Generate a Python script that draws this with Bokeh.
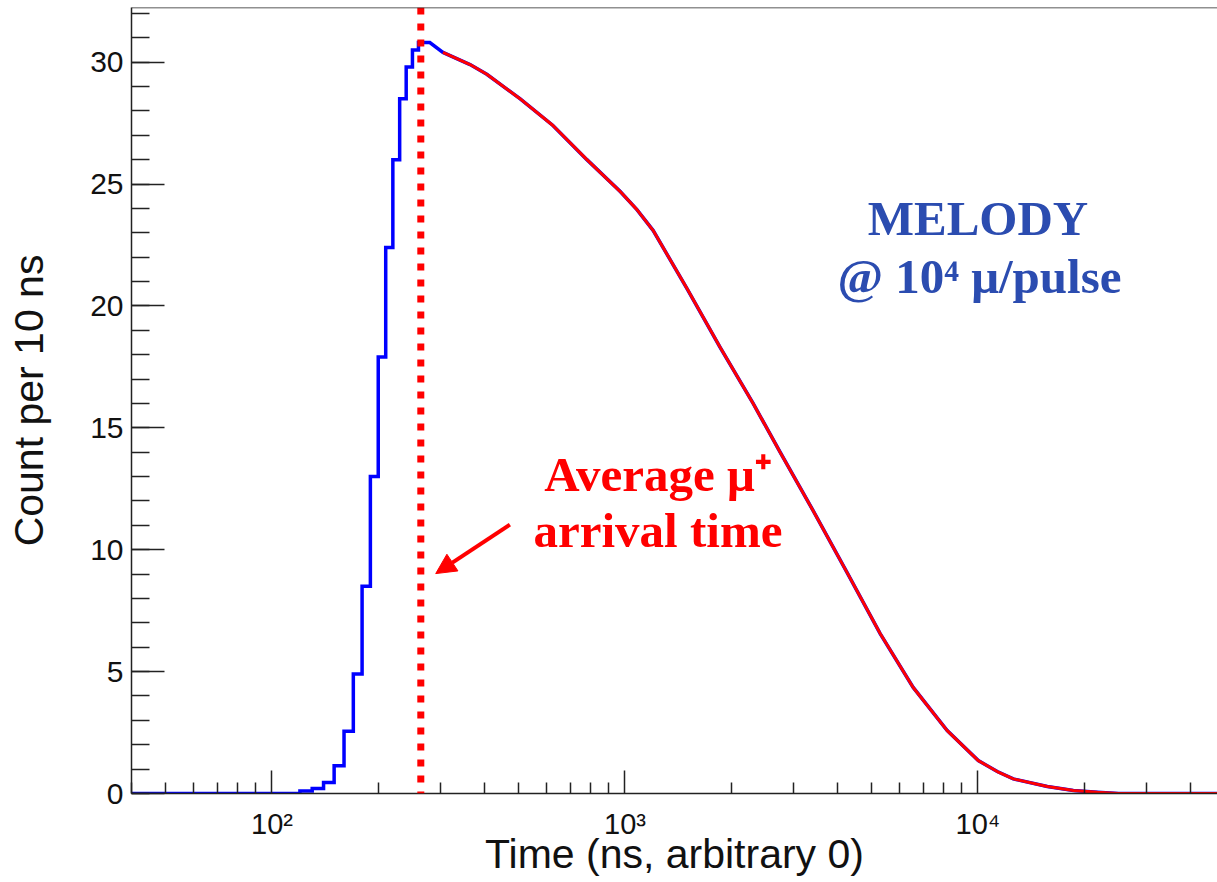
from bokeh.plotting import figure
from bokeh.models import Range1d, FixedTicker, Span, Label, Arrow, NormalHead
from bokeh.embed import file_html
from bokeh.resources import INLINE

# ---------------- data ----------------
# rising edge of the histogram: 10 ns bins (bin edges, counts per bin)
hist_edges = [40, 120, 130, 140, 150, 160, 170, 180, 190, 200, 210, 220, 230, 240, 250, 260, 280]
hist_counts = [0.0, 0.1, 0.2, 0.45, 1.14, 2.55, 4.9, 8.5, 13.0, 17.9, 22.4, 26.0, 28.5, 29.8, 30.5, 30.8]

# decaying part of the histogram (time in ns, count per 10 ns)
decay_time = [305, 364, 406, 504, 625, 780, 968, 1081, 1201, 1500, 1860, 2307, 2751,
              3412, 4259, 5283, 6553, 8181, 10020, 11340, 12590, 15720, 18640, 21800, 25000, 47700]
decay_count = [30.4, 29.9, 29.5, 28.5, 27.4, 26.0, 24.7, 23.95, 23.1, 20.7, 18.3, 16.0, 14.0,
               11.6, 9.06, 6.56, 4.35, 2.58, 1.35, 0.9, 0.6, 0.29, 0.12, 0.05, 0.0, 0.0]

# fitted curve (coincides with the histogram)
fit_time = decay_time
fit_count = decay_count

avg_arrival_ns = 264

x_major = [100, 1000, 10000]
x_tick_labels = ["10\u00b2", "10\u00b3", "10\u2074"]
x_minor = [40, 50, 60, 70, 80, 90, 200, 300, 400, 500, 600, 700, 800, 900,
           2000, 3000, 4000, 5000, 6000, 7000, 8000, 9000, 20000, 30000, 40000]
y_major = [0, 5, 10, 15, 20, 25, 30]
y_minor = list(range(0, 33))

X_START, X_END = 40, 47700
Y_TOP = 32.24

# ---------------- figure ----------------
p = figure(width=1217, height=882, x_axis_type="log",
           x_range=Range1d(X_START, X_END), y_range=Range1d(0, Y_TOP),
           output_backend="svg", toolbar_location=None,
           min_border_left=131, min_border_right=0, min_border_top=7, min_border_bottom=89)
p.background_fill_color = "white"
p.border_fill_color = "white"
p.outline_line_color = None
p.xgrid.visible = False
p.ygrid.visible = False

# histogram (steps + decay)
hx, hy = [], []
for i, c in enumerate(hist_counts):
    hx += [hist_edges[i], hist_edges[i + 1]]
    hy += [c, c]
hx += decay_time
hy += decay_count
p.line(hx, hy, line_color="#0000ff", line_width=3.5, line_join="miter")

# fit
p.line(fit_time, fit_count, line_color="#ff0000", line_width=3)

# average arrival time marker
p.add_layout(Span(location=avg_arrival_ns, dimension="height", line_color="#ff0000",
                  line_width=7, line_dash="7 9"))

# top frame line
p.add_layout(Span(location=Y_TOP, dimension="width", line_color="#222222", line_width=1.5))

# axes
AX_COL = "#222222"
xa = p.xaxis[0]
xa.ticker = FixedTicker(ticks=x_major, minor_ticks=x_minor)
xa.major_label_overrides = {v: s for v, s in zip(x_major, x_tick_labels)}
xa.major_tick_in = 23
xa.major_tick_out = 0
xa.minor_tick_in = 11
xa.minor_tick_out = 0
xa.axis_label = "Time (ns, arbitrary 0)"

ya = p.yaxis[0]
ya.ticker = FixedTicker(ticks=y_major, minor_ticks=y_minor)
ya.major_tick_in = 33
ya.major_tick_out = 0
ya.minor_tick_in = 18
ya.minor_tick_out = 0
ya.axis_label = "Count per 10 ns"

for ax in (xa, ya):
    ax.axis_line_color = AX_COL
    ax.axis_line_width = 1.5
    ax.major_tick_line_color = AX_COL
    ax.major_tick_line_width = 1.5
    ax.minor_tick_line_color = AX_COL
    ax.minor_tick_line_width = 1.5
    ax.major_label_text_font = "Liberation Sans"
    ax.major_label_text_color = "#111111"
    ax.axis_label_text_font = "Liberation Sans"
    ax.axis_label_text_font_style = "normal"
    ax.axis_label_text_color = "#111111"

xa.major_label_text_font_size = "29px"
xa.major_label_standoff = 14
xa.axis_label_text_font_size = "41px"
xa.axis_label_standoff = -12
ya.major_label_text_font_size = "30px"
ya.major_label_standoff = 8
ya.axis_label_text_font_size = "41px"
ya.axis_label_standoff = 35

# annotations
BLUE_TXT = "#2b4cb0"
RED = "#ff0000"
for txt, x, y, col in [("MELODY", 10000, 23.6, BLUE_TXT),
                       ("@ 10\u2074 \u03bc/pulse", 10100, 21.2, BLUE_TXT),
                       ("Average \u03bc\u207a", 1240, 13.1, RED),
                       ("arrival time", 1240, 10.77, RED)]:
    p.add_layout(Label(x=x, y=y, text=txt, text_align="center", text_baseline="alphabetic",
                       text_font="Liberation Serif", text_font_style="bold",
                       text_font_size="49px", text_color=col))

p.add_layout(Arrow(x_start=472, y_start=11.03, x_end=291, y_end=9.02,
                   line_color=RED, line_width=4,
                   end=NormalHead(size=20, fill_color=RED, line_color=RED)))

open("out.html", "w").write(file_html(p, INLINE))
